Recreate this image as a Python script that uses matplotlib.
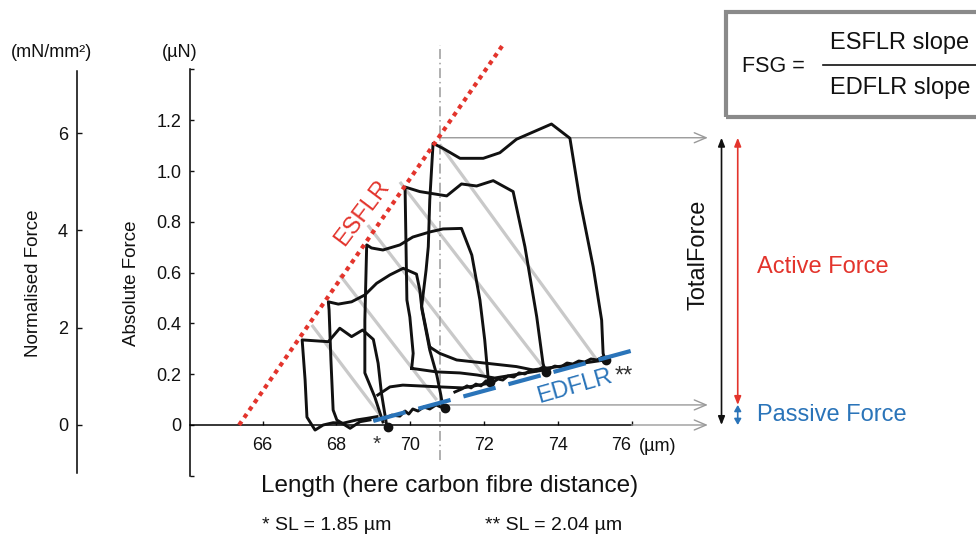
import matplotlib.pyplot as plt
from matplotlib.patches import Rectangle
from matplotlib.lines import Line2D

plt.rcParams['font.family'] = ['Liberation Sans', 'DejaVu Sans']

# axis ranges / ticks
x_lim = (64.03, 85.34)
abs_lim = (-0.2, 1.4)
norm_per_abs = 5.22          # mN/mm2 per uN
x_ticks = [66, 68, 70, 72, 74, 76]
abs_ticks = [-0.2, 0, 0.2, 0.4, 0.6, 0.8, 1.0, 1.2, 1.4]
abs_labels = ['', '0', '0.2', '0.4', '0.6', '0.8', '1.0', '1.2', '']
norm_ticks = [0, 2, 4, 6]
norm_labels = ['0', '2', '4', '6']

# end-systolic / end-diastolic force-length relations
esflr_x = [65.36, 72.51]
esflr_y = [0.0, 1.496]
edflr_x = [69.00, 76.27]
edflr_y = [0.016, 0.303]

# digitised force-length loops
loop1_x = [69.10, 68.82, 68.55, 68.18, 67.91, 67.64, 67.42, 67.20, 67.15, 67.07,
           67.78, 68.09, 68.41, 68.71, 69.00, 69.13, 69.22, 69.36]
loop1_y = [0.033, 0.026, 0.020, 0.007, 0.009, 0.000, -0.020, 0.031, 0.177, 0.335,
           0.328, 0.381, 0.348, 0.374, 0.337, 0.243, 0.125, 0.000]

loop2_x = [68.91, 68.64, 68.37, 68.01, 67.91, 67.85, 67.80, 67.78, 68.05, 68.41,
           68.77, 69.09, 69.45, 69.81, 70.17, 70.26, 70.32, 70.53, 70.72, 70.83, 70.89]
loop2_y = [0.020, 0.013, -0.013, 0.020, 0.059, 0.256, 0.453, 0.485, 0.476, 0.485,
           0.512, 0.558, 0.591, 0.617, 0.594, 0.531, 0.453, 0.295, 0.197, 0.118, 0.067]

loop3_x = [69.26, 69.04, 68.77, 68.77, 68.82, 68.95, 69.26, 69.72, 70.07, 70.53,
           70.89, 71.39, 71.67, 71.89, 72.02, 72.11, 72.16, 71.43, 70.80, 69.80,
           69.45, 69.12]
loop3_y = [0.012, 0.110, 0.205, 0.413, 0.709, 0.697, 0.689, 0.709, 0.740, 0.760,
           0.772, 0.774, 0.669, 0.492, 0.335, 0.189, 0.165, 0.146, 0.150, 0.157,
           0.150, 0.118]

loop4_x = [70.04, 70.08, 69.99, 69.91, 69.86, 70.26, 70.99, 71.39, 71.80, 72.25,
           72.79, 73.11, 73.43, 73.60, 73.65, 72.97, 72.29, 71.81, 71.35, 70.72, 70.04]
loop4_y = [0.223, 0.282, 0.425, 0.492, 0.937, 0.919, 0.902, 0.949, 0.941, 0.962,
           0.919, 0.702, 0.426, 0.243, 0.217, 0.201, 0.185, 0.197, 0.205, 0.209, 0.223]

loop5_x = [70.53, 70.31, 70.43, 70.49, 70.53, 70.62, 70.89, 71.35, 71.98, 72.43,
           72.88, 73.83, 74.33, 74.60, 74.96, 75.19, 75.23, 75.28, 74.33, 73.32,
           72.88, 72.07, 71.26, 70.80, 70.53]
loop5_y = [0.307, 0.466, 0.610, 0.702, 0.886, 1.109, 1.089, 1.050, 1.050, 1.072,
           1.125, 1.185, 1.129, 0.886, 0.623, 0.413, 0.282, 0.256, 0.236, 0.217,
           0.230, 0.243, 0.256, 0.282, 0.307]

# noisy passive traces along the EDFLR
base1_x = [69.04, 69.31, 69.50, 69.72, 69.86, 69.96, 70.07, 70.21, 70.37, 70.53, 70.70, 70.89]
base1_y = [0.020, 0.024, 0.039, 0.035, 0.055, 0.043, 0.063, 0.055, 0.071, 0.063, 0.079, 0.067]
base2_x = [71.21, 71.40, 71.54, 71.65, 71.78, 71.92, 72.05, 72.21, 72.38, 72.51, 72.65,
           72.81, 72.95, 73.11, 73.27, 73.43, 73.60, 73.76, 73.92, 74.08, 74.25, 74.41,
           74.57, 74.73, 74.90, 75.06, 75.22, 75.36]
base2_y = [0.130, 0.142, 0.154, 0.146, 0.161, 0.154, 0.173, 0.165, 0.181, 0.177, 0.193,
           0.189, 0.205, 0.201, 0.217, 0.213, 0.228, 0.220, 0.232, 0.228, 0.244, 0.240,
           0.252, 0.248, 0.260, 0.256, 0.268, 0.260]

# loop end points
end_x = [69.41, 70.94, 72.16, 73.68, 75.30]
end_y = [-0.007, 0.067, 0.169, 0.210, 0.256]

# grey lines from ESFLR point to EDFLR point
diag_x0 = [67.33, 68.09, 68.85, 69.72, 70.80]
diag_y0 = [0.394, 0.591, 0.787, 0.957, 1.105]
diag_x1 = [69.18, 70.72, 72.16, 73.60, 75.06]
diag_y1 = [0.039, 0.098, 0.165, 0.228, 0.256]

ref_x = 70.80
ref_y = (-0.138, 1.496)
total_force = 1.131
passive_force = 0.079
axis_end = 76
arrow_tip_x = 78.07
total_arrow_x = 78.44
active_arrow_x = 78.88

red = '#e3342c'
blue = '#2a74b9'
grey = '#9a9a9a'
ink = '#111111'

fig = plt.figure(figsize=(9.76, 5.34), dpi=100)
ax = fig.add_axes([0.1947, 0.109, 0.8053, 0.761])
ax.set_xlim(*x_lim)
ax.set_ylim(*abs_lim)
for s in ['top', 'right']:
    ax.spines[s].set_visible(False)
ax.spines['bottom'].set_position(('data', 0))
ax.spines['bottom'].set_bounds(x_lim[0], axis_end)
ax.spines['left'].set_bounds(*abs_lim)
for s in ['bottom', 'left']:
    ax.spines[s].set_linewidth(1.1)
ax.set_xticks(x_ticks)
ax.set_xticklabels([str(t) for t in x_ticks])
ax.set_yticks(abs_ticks)
ax.set_yticklabels(abs_labels)
ax.tick_params(direction='in', length=3.2, width=1, labelsize=13, colors=ink)
ax.tick_params(axis='x', pad=9)
ax.tick_params(axis='y', pad=6)
ax.get_xticklabels()[-1].set_ha('right')
ax.get_xticklabels()[-1].set_x(76.25)

# normalised force axis
axn = fig.add_axes([0.0789, 0.109, 0.0005, 0.761])
axn.set_ylim(abs_lim[0] * norm_per_abs, abs_lim[1] * norm_per_abs)
for s in ['top', 'right', 'bottom']:
    axn.spines[s].set_visible(False)
axn.spines['left'].set_linewidth(1.1)
axn.spines['left'].set_bounds(-0.98, 7.28)
axn.set_xticks([])
axn.set_yticks(norm_ticks)
axn.set_yticklabels(norm_labels)
axn.tick_params(direction='in', length=3.3, width=1, labelsize=13, pad=6.5, colors=ink)
axn.patch.set_visible(False)

# grey guide lines
for xa, ya, xb, yb in zip(diag_x0, diag_y0, diag_x1, diag_y1):
    ax.plot([xa, xb], [ya, yb], color='#c9c9c9', lw=2.3, solid_capstyle='butt', zorder=1)
ax.plot([ref_x, ref_x], ref_y, color=grey, lw=1.1, dashes=(6.5, 2.5, 1, 2.5),
        zorder=1, clip_on=False)

arrow_grey = dict(arrowstyle='->,head_length=0.85,head_width=0.36', color=grey, lw=1.0,
                  shrinkA=0, shrinkB=0)
ax.annotate('', xy=(arrow_tip_x, total_force), xytext=(ref_x, total_force), arrowprops=arrow_grey)
ax.annotate('', xy=(arrow_tip_x, passive_force), xytext=(ref_x, passive_force), arrowprops=arrow_grey)
ax.annotate('', xy=(arrow_tip_x, 0), xytext=(axis_end, 0), arrowprops=arrow_grey)

# loops
for lx, ly in [(loop1_x, loop1_y), (loop2_x, loop2_y), (loop3_x, loop3_y),
               (loop4_x, loop4_y), (loop5_x, loop5_y)]:
    ax.plot(lx, ly, color=ink, lw=2.1, solid_joinstyle='round', zorder=3)
ax.plot(base1_x, base1_y, color=ink, lw=2.1, zorder=3)
ax.plot(base2_x, base2_y, color=ink, lw=2.1, zorder=3)
ax.plot(end_x, end_y, 'o', ms=6, color=ink, zorder=3)

# relations
ax.plot(esflr_x, esflr_y, color=red, lw=3, dashes=(1.05, 1.1), zorder=4, clip_on=False)
ax.plot(edflr_x, edflr_y, color=blue, lw=3, dashes=(8, 3.2), zorder=4)

ax.text(68.69, 0.835, 'ESFLR', color=red, fontsize=17, rotation=53,
        rotation_mode='anchor', ha='center', va='center')
ax.text(74.46, 0.150, 'EDFLR', color=blue, fontsize=17, rotation=16,
        rotation_mode='anchor', ha='center', va='center')
ax.text(75.53, 0.19, '**', color='#333333', fontsize=17, ha='left', va='center')
ax.text(69.10, -0.078, '*', color='#333333', fontsize=15, ha='center', va='center')

# force arrows
ax.annotate('', xy=(total_arrow_x, total_force), xytext=(total_arrow_x, 0),
            arrowprops=dict(arrowstyle='<|-|>,head_length=0.5,head_width=0.2', color=ink,
                            lw=1.2, shrinkA=0, shrinkB=0))
ax.annotate('', xy=(active_arrow_x, total_force), xytext=(active_arrow_x, passive_force),
            arrowprops=dict(arrowstyle='<|-|>,head_length=0.5,head_width=0.2', color=red,
                            lw=1.2, shrinkA=0, shrinkB=0))
ax.annotate('', xy=(active_arrow_x, passive_force), xytext=(active_arrow_x, 0),
            arrowprops=dict(arrowstyle='<|-|>,head_length=0.35,head_width=0.2', color=blue,
                            lw=1.2, shrinkA=0, shrinkB=0))

# labels
fig.text(0.0523, 0.9026, '(mN/mm²)', fontsize=13, ha='center', va='center', color=ink)
fig.text(0.1844, 0.9026, '(µN)', fontsize=13, ha='center', va='center', color=ink)
fig.text(0.0343, 0.470, 'Normalised Force', fontsize=13.5, rotation=90,
         ha='center', va='center', color=ink)
fig.text(0.1352, 0.470, 'Absolute Force', fontsize=13.5, rotation=90,
         ha='center', va='center', color=ink)
fig.text(0.6547, 0.1789, '(µm)', fontsize=13, ha='left', va='top', color=ink)
fig.text(0.4611, 0.0787, 'Length (here carbon fibre distance)', fontsize=17.5,
         ha='center', va='baseline', color=ink)
fig.text(0.2684, 0.0075, '* SL = 1.85 µm', fontsize=14, ha='left', va='baseline', color=ink)
fig.text(0.4969, 0.0075, '** SL = 2.04 µm', fontsize=14, ha='left', va='baseline', color=ink)

fig.text(0.7152, 0.5225, 'TotalForce', fontsize=17, rotation=90,
         ha='center', va='center', color=ink)
fig.text(0.7756, 0.500, 'Active Force', fontsize=17, ha='left', va='center', color=red)
fig.text(0.7756, 0.2228, 'Passive Force', fontsize=17, ha='left', va='center', color=blue)

# FSG box
fig.patches.append(Rectangle((0.7437, 0.781), 0.30, 0.196, transform=fig.transFigure,
                             fill=False, edgecolor='#8a8a8a', lw=3, clip_on=False))
fig.text(0.7602, 0.8764, 'FSG =', fontsize=15.5, ha='left', va='center', color=ink)
fig.text(0.8504, 0.9195, 'ESFLR slope', fontsize=17, ha='left', va='center', color=ink)
fig.text(0.8504, 0.8352, 'EDFLR slope', fontsize=17, ha='left', va='center', color=ink)
fig.lines.append(Line2D([0.8432, 1.0], [0.8783, 0.8783], transform=fig.transFigure,
                        color=ink, lw=1.2))

fig.savefig('out.png', dpi=100)
